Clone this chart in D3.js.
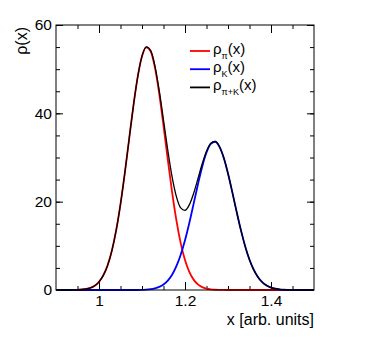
<!DOCTYPE html>
<html>
<head>
<meta charset="utf-8">
<script src="https://cdn.jsdelivr.net/npm/d3@7"></script>
<style>
  body { margin: 0; background: #fff; }
  text { font-family: "Liberation Sans", Arial, sans-serif; fill: #000; }
</style>
</head>
<body>
<div id="chart"></div>
<script>
// sampled x positions (step 0.01 from 0.90 to 1.50)
var xs = d3.range(61).map(function(i) { return +(0.9 + i * 0.01).toFixed(2) })

var rhoPi = [0, 0, 0, 0, 0.02, 0.05, 0.11, 0.24, 0.49, 0.98,
  1.85, 3.30, 5.58, 8.93, 13.54, 19.45, 26.47, 34.13, 41.69, 48.25,
  52.90, 54.94, 54.05, 50.39, 44.49, 37.22, 29.50, 22.14, 15.75, 10.61,
  6.78, 4.10, 2.35, 1.27, 0.65, 0.32, 0.15, 0.06, 0.03, 0.01,
  0, 0, 0, 0, 0, 0, 0, 0, 0, 0,
  0, 0, 0, 0, 0, 0, 0, 0, 0, 0, 0]

var rhoK = [0, 0, 0, 0, 0, 0, 0, 0, 0, 0,
  0, 0, 0, 0, 0, 0, 0, 0, 0, 0,
  0.04, 0.09, 0.19, 0.37, 0.70, 1.25, 2.14, 3.47, 5.39, 7.98,
  11.27, 15.17, 19.50, 23.89, 27.92, 31.12, 33.10, 33.57, 32.47, 29.97,
  26.38, 22.15, 17.74, 13.55, 9.87, 6.86, 4.55, 2.88, 1.73, 1.00,
  0.55, 0.29, 0.14, 0.07, 0.03, 0, 0, 0, 0, 0, 0]

var rhoSum = [0, 0, 0, 0, 0.02, 0.05, 0.11, 0.24, 0.49, 0.98,
  1.85, 3.30, 5.58, 8.93, 13.54, 19.45, 26.47, 34.13, 41.69, 48.25,
  52.94, 55.03, 54.24, 50.76, 45.19, 38.47, 31.64, 25.61, 21.14, 18.59,
  18.05, 19.27, 21.85, 25.16, 28.57, 31.44, 33.25, 33.63, 32.50, 29.98,
  26.38, 22.15, 17.74, 13.55, 9.87, 6.86, 4.55, 2.88, 1.73, 1.00,
  0.55, 0.29, 0.14, 0.07, 0.03, 0, 0, 0, 0, 0, 0]

var xTicks = [1, 1.2, 1.4]
var yTicks = [0, 20, 40, 60]

var width = 374, height = 347
var margin = {top: 25, right: 60, bottom: 57, left: 56}

var svg = d3.select("#chart").append("svg")
  .attr("width", width)
  .attr("height", height)

var x = d3.scaleLinear().domain([0.9, 1.5]).range([margin.left, width - margin.right])
var y = d3.scaleLinear().domain([0, 60]).range([height - margin.bottom, margin.top])

var x0 = x.range()[0], x1 = x.range()[1], y0 = y.range()[0], y1 = y.range()[1]

var fmt = function(d) { return d3.format("")(d) }
var minorX = d3.range(0.95, 1.5, 0.05).map(function(d) { return +d.toFixed(2) })
var minorY = d3.range(5, 60, 5)

// minor ticks (inward, all four sides)
function tickLines(g, axis) {
  g.call(axis)
  g.select(".domain").remove()
  g.selectAll("line").attr("stroke", "#000")
}
svg.append("g").attr("transform", "translate(0," + y0 + ")")
  .call(tickLines, d3.axisBottom(x).tickValues(minorX).tickSize(-4).tickFormat(""))
svg.append("g").attr("transform", "translate(0," + y1 + ")")
  .call(tickLines, d3.axisTop(x).tickValues(minorX).tickSize(-4).tickFormat(""))
svg.append("g").attr("transform", "translate(" + x0 + ",0)")
  .call(tickLines, d3.axisLeft(y).tickValues(minorY).tickSize(-4).tickFormat(""))
svg.append("g").attr("transform", "translate(" + x1 + ",0)")
  .call(tickLines, d3.axisRight(y).tickValues(minorY).tickSize(-4).tickFormat(""))

// major ticks
var xb = svg.append("g").attr("transform", "translate(0," + y0 + ")")
  .call(d3.axisBottom(x).tickValues(xTicks).tickSize(-8).tickPadding(5).tickFormat(fmt))
xb.select(".domain").remove()
xb.selectAll("line").attr("stroke", "#000")
xb.selectAll("text").attr("font-size", 15.5).attr("font-family", "Liberation Sans, Arial, sans-serif")

svg.append("g").attr("transform", "translate(0," + y1 + ")")
  .call(tickLines, d3.axisTop(x).tickValues(xTicks).tickSize(-8).tickFormat(""))

var yl = svg.append("g").attr("transform", "translate(" + x0 + ",0)")
  .call(d3.axisLeft(y).tickValues(yTicks).tickSize(-7).tickPadding(4).tickFormat(fmt))
yl.select(".domain").remove()
yl.selectAll("line").attr("stroke", "#000")
yl.selectAll("text").attr("font-size", 15.5).attr("font-family", "Liberation Sans, Arial, sans-serif")

svg.append("g").attr("transform", "translate(" + x1 + ",0)")
  .call(tickLines, d3.axisRight(y).tickValues(yTicks).tickSize(-7).tickFormat(""))

// curves
var line = function(vals) {
  return d3.line()
    .x(function(d, i) { return x(xs[i]) })
    .y(function(d) { return y(d) })
    .curve(d3.curveMonotoneX)(vals)
}

svg.append("path").attr("d", line(rhoPi))
  .attr("fill", "none").attr("stroke", "#ff0000").attr("stroke-width", 1.8)
svg.append("path").attr("d", line(rhoK))
  .attr("fill", "none").attr("stroke", "#0000ff").attr("stroke-width", 1.8)
svg.append("path").attr("d", line(rhoSum))
  .attr("fill", "none").attr("stroke", "#000").attr("stroke-width", 1.3)

// frame
svg.append("rect")
  .attr("x", x0).attr("y", y1)
  .attr("width", x1 - x0).attr("height", y0 - y1)
  .attr("fill", "none").attr("stroke", "#000").attr("stroke-width", 1)

// axis titles
svg.append("text")
  .attr("x", x1).attr("y", 325)
  .attr("text-anchor", "end").attr("font-size", 16)
  .text("x [arb. units]")

svg.append("text")
  .attr("transform", "translate(27," + (y1 + 2) + ") rotate(-90)")
  .attr("text-anchor", "end").attr("font-size", 16)
  .text("ρ(x)")

// legend
var legend = [
  {sub: "π", color: "#ff0000"},
  {sub: "K", color: "#0000ff"},
  {sub: "π+K", color: "#000"}
]
var lg = svg.selectAll(".leg").data(legend).enter().append("g")
  .attr("transform", function(d, i) { return "translate(190," + (51 + i * 18.2) + ")" })
lg.append("line").attr("x1", 0).attr("x2", 20)
  .attr("stroke", function(d) { return d.color }).attr("stroke-width", 1.8)
var lt = lg.append("text").attr("x", 23).attr("y", 3).attr("font-size", 15)
lt.append("tspan").text("ρ")
lt.append("tspan").attr("dy", 5).attr("font-size", 9).text(function(d) { return d.sub })
lt.append("tspan").attr("dy", -5).text("(x)")
</script>
</body>
</html>
